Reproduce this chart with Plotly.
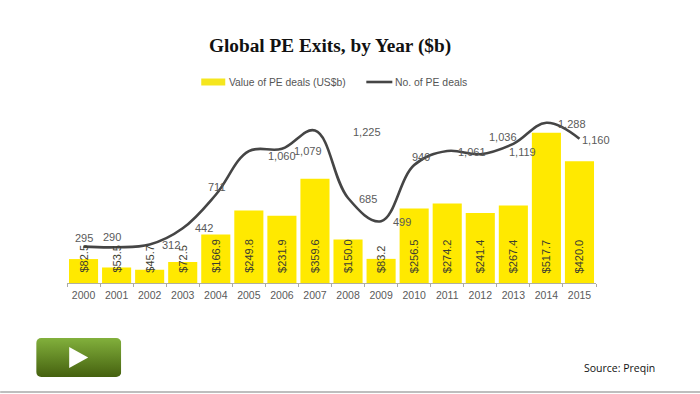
import base64
import plotly.graph_objects as go

years = ["2000","2001","2002","2003","2004","2005","2006","2007","2008","2009","2010","2011","2012","2013","2014","2015"]
values = [82.5,53.5,45.7,72.5,166.9,249.8,231.9,359.6,150.0,83.2,256.5,274.2,241.4,267.4,517.7,420.0]
deals = [295,290,312,442,711,1060,1079,1225,685,499,949,1061,1036,1119,1288,1160]
deal_dx = [0,-5,21,21,1.5,33,26,52,20,21,7,25,23,9,26,17]
deal_dy = [9,10,0,0,8,-5,-2,-1,-1,-1,8,-1,17,-8,-1,-1]
bar_name = "Value of PE deals (US$b)"
line_name = "No. of PE deals"

W, H = 700, 394
L, R, T, B = 66.8, 595.6, 100, 283

def px(x): return (x - L) / (R - L)
def py(y): return (B - y) / (B - T)

fig = go.Figure()
fig.add_bar(x=years, y=values, name=bar_name,
            marker=dict(color="#FFE900", line_width=0), yaxis="y", hoverinfo="x+y")
fig.add_scatter(x=years, y=deals, name=line_name, mode="lines", yaxis="y2",
                line=dict(color="#454545", width=2.6, shape="spline", smoothing=1.1))

ann = []
for i, v in enumerate(values):
    ann.append(dict(x=i, y=0, xref="x", yref="y", text=f"${v:.1f}", textangle=-90, showarrow=False,
                    xanchor="center", yanchor="bottom", yshift=8,
                    font=dict(family="Liberation Sans", size=11, color="#3d3d30")))
for i, (d, dx, dy) in enumerate(zip(deals, deal_dx, deal_dy)):
    ann.append(dict(x=i, y=d, xref="x", yref="y2", text=f"{d:,}", showarrow=False,
                    xanchor="center", yanchor="middle", xshift=dx, yshift=dy,
                    font=dict(family="Liberation Sans", size=11, color="#5a5a5a")))
ann.append(dict(x=px(330), y=py(46), xref="paper", yref="paper", text="<b>Global PE Exits, by Year ($b)</b>",
                xanchor="center", yanchor="middle", showarrow=False,
                font=dict(family="Liberation Serif", size=19.3, color="#111111")))
ann.append(dict(x=px(619.5), y=py(368), xref="paper", yref="paper", text="Source: Preqin", showarrow=False,
                xanchor="center", yanchor="middle",
                font=dict(family="Open Sans", size=10.5, color="#111111")))
ann.append(dict(x=px(227), y=py(83), xref="paper", yref="paper", text=bar_name, showarrow=False,
                xanchor="left", yanchor="middle",
                font=dict(family="Liberation Sans", size=10.3, color="#555555")))
ann.append(dict(x=px(392.5), y=py(83), xref="paper", yref="paper", text=line_name, showarrow=False,
                xanchor="left", yanchor="middle",
                font=dict(family="Liberation Sans", size=10.4, color="#555555")))

svg = ('<svg xmlns="http://www.w3.org/2000/svg" width="85" height="39" viewBox="0 0 85 39">'
       '<defs><linearGradient id="g" x1="0" y1="0" x2="0" y2="1"><stop offset="0" stop-color="#82B03C"/>'
       '<stop offset="1" stop-color="#45610F"/></linearGradient></defs>'
       '<rect width="85" height="39" rx="5" fill="url(#g)"/><path d="M33 9 L52 19.5 L33 30 Z" fill="#fff"/></svg>')
src = "data:image/svg+xml;base64," + base64.b64encode(svg.encode()).decode()

fig.update_layout(
    width=W, height=H, margin=dict(l=L, r=W-R, t=T, b=H-B), autosize=False,
    paper_bgcolor="white", plot_bgcolor="white", bargap=0.12, annotations=ann, showlegend=False,
    xaxis=dict(type="category", categoryorder="array", categoryarray=years, range=[-0.5, 15.5],
               tickmode="linear", tick0=0, dtick=1, tickson="boundaries", tickangle=0,
               ticks="outside", ticklen=3, tickcolor="#aaaaaa", ticklabelstandoff=2,
               showline=True, linecolor="#b0b0a0", linewidth=1, showgrid=False, zeroline=False,
               tickfont=dict(family="Liberation Sans", size=10.5, color="#5a5a5a")),
    yaxis=dict(range=[0, 631], visible=False, showgrid=False),
    yaxis2=dict(range=[4, 1470], overlaying="y", side="right", visible=False, showgrid=False),
    shapes=[dict(type="line", xref="paper", yref="paper", x0=px(0), x1=px(700), y0=py(392), y1=py(392),
                 line=dict(color="#a8a8a8", width=1.5)),
            dict(type="rect", xref="paper", yref="paper", x0=px(201), x1=px(225), y0=py(78.5), y1=py(85.5),
                 fillcolor="#F5E61E", line_width=0),
            dict(type="line", xref="paper", yref="paper", x0=px(366), x1=px(392), y0=py(82), y1=py(82),
                 line=dict(color="#454545", width=2.6))],
    images=[dict(source=src, xref="paper", yref="paper", x=px(36), y=py(338), sizex=85/(R-L), sizey=39/(B-T),
                 xanchor="left", yanchor="top", sizing="stretch", layer="above")],
)
fig.write_html("out.html", config={"displayModeBar": False},
               post_script="document.body.style.margin='0';document.documentElement.style.overflow='hidden';")
